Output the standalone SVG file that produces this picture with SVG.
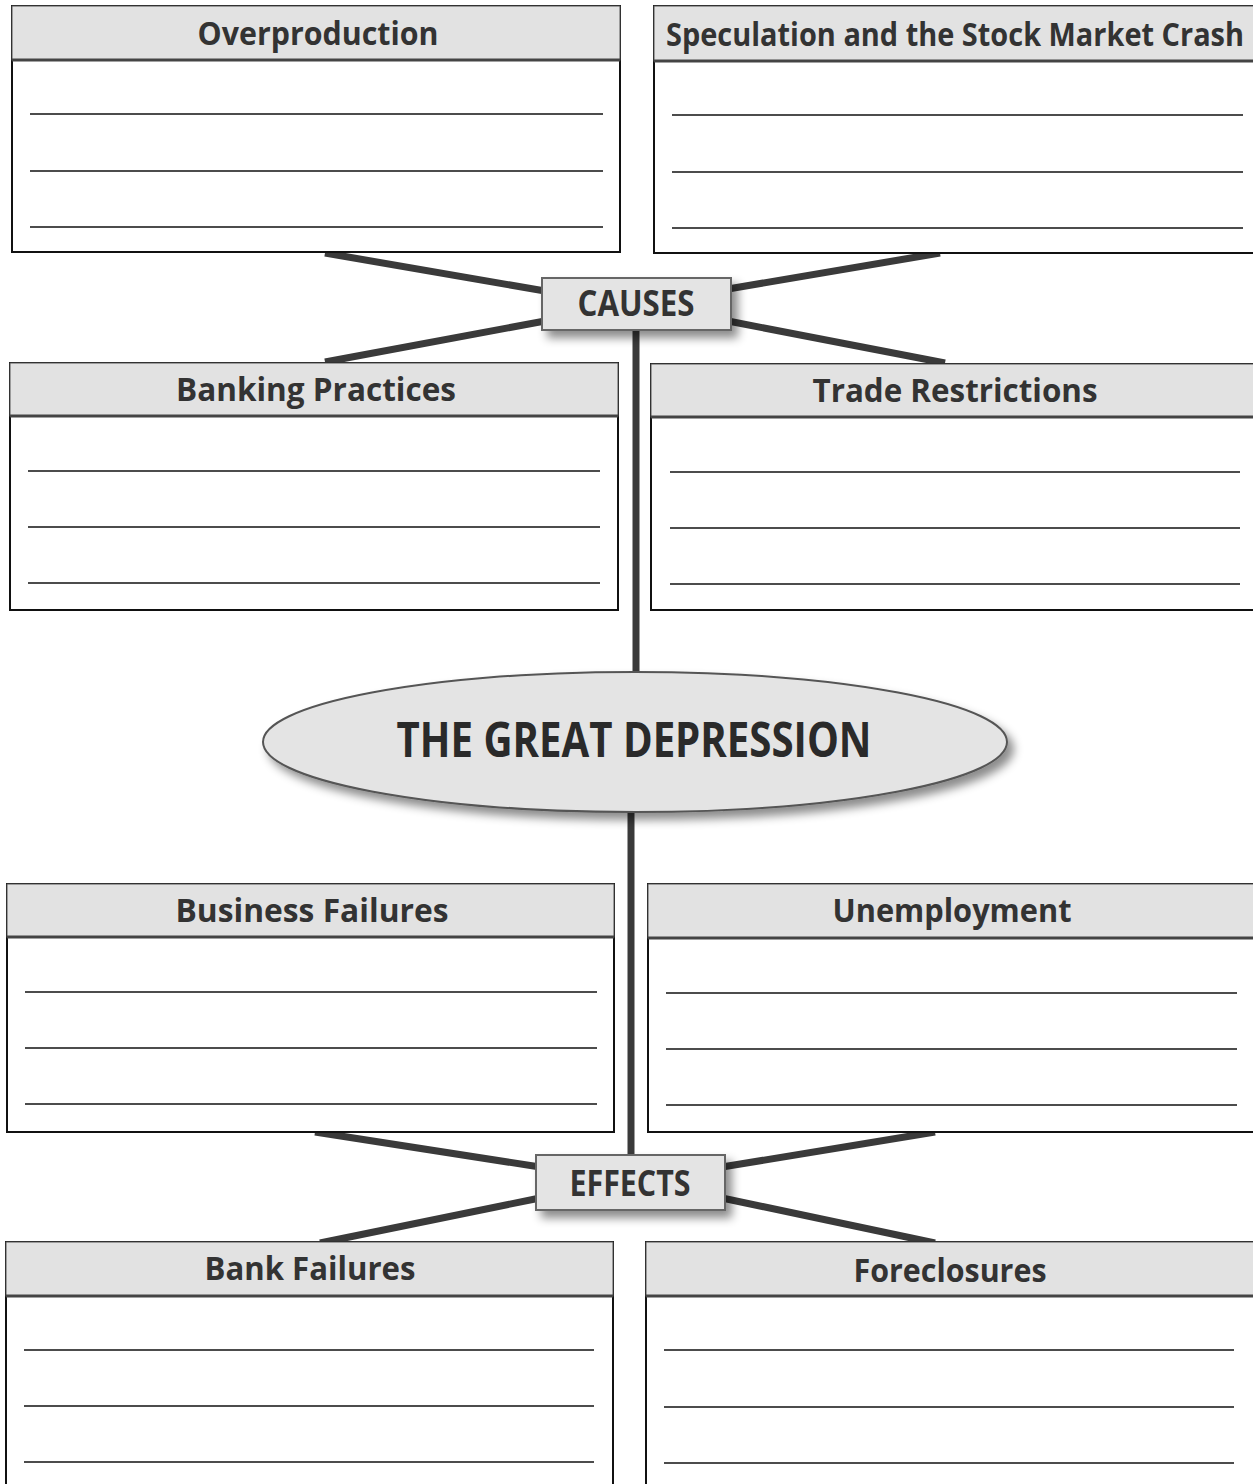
<svg xmlns="http://www.w3.org/2000/svg" width="1253" height="1484" viewBox="0 0 1253 1484">
<style>
.box{fill:#fff;stroke:#111;stroke-width:2}
.hdr{fill:#e2e2e2;stroke:#555;stroke-width:1}
.hline{stroke:#444;stroke-width:3}
.rule{stroke:#111;stroke-width:1.5}
.ht{font-family:"Open Sans","Liberation Sans",sans-serif;font-weight:bold;font-size:33px;fill:#333;text-anchor:middle}
.conn{stroke:#3a3a3a;stroke-width:7;stroke-linecap:butt;fill:none}
.lbl{fill:#e4e4e4;stroke:#666;stroke-width:2}
.lt{font-family:"Open Sans","Liberation Sans",sans-serif;font-weight:bold;font-size:36px;fill:#333;text-anchor:middle}
</style>
<defs>
<filter id="sh" x="-20%" y="-30%" width="140%" height="170%">
<feDropShadow dx="6" dy="7" stdDeviation="5" flood-color="#000" flood-opacity="0.45"/>
</filter>
</defs>
<rect width="1253" height="1484" fill="#fff"/>
<g id="connectors">
<line class="conn" x1="325" y1="253" x2="545" y2="291"/>
<line class="conn" x1="325" y1="362" x2="545" y2="321"/>
<line class="conn" x1="940" y1="253" x2="728" y2="289"/>
<line class="conn" x1="945" y1="363" x2="728" y2="321"/>
<line class="conn" x1="636" y1="330" x2="636" y2="674" stroke-width="5"/>
<line class="conn" x1="631" y1="810" x2="631" y2="1157" stroke-width="5"/>
<line class="conn" x1="315" y1="1132" x2="540" y2="1167"/>
<line class="conn" x1="320" y1="1243" x2="540" y2="1198"/>
<line class="conn" x1="935" y1="1132" x2="722" y2="1167"/>
<line class="conn" x1="935" y1="1243" x2="722" y2="1198"/>
</g>
<g id="overproduction">
<rect class="box" x="12" y="6" width="608" height="246"/>
<rect class="hdr" x="12" y="6" width="608" height="54"/>
<line class="hline" x1="12" y1="60" x2="620" y2="60"/>
<text class="ht" x="318" y="45" textLength="241" lengthAdjust="spacingAndGlyphs">Overproduction</text>
<line class="rule" x1="30" y1="114" x2="603" y2="114"/>
<line class="rule" x1="30" y1="171" x2="603" y2="171"/>
<line class="rule" x1="30" y1="227" x2="603" y2="227"/>
</g>
<g id="speculation">
<rect class="box" x="654" y="6" width="610" height="247"/>
<rect class="hdr" x="654" y="6" width="610" height="55"/>
<line class="hline" x1="654" y1="61" x2="1253" y2="61"/>
<text class="ht" transform="scale(0.78,1)" x="1224.4" y="46" textLength="741" lengthAdjust="spacingAndGlyphs">Speculation and the Stock Market Crash</text>
<line class="rule" x1="672" y1="115" x2="1243" y2="115"/>
<line class="rule" x1="672" y1="172" x2="1243" y2="172"/>
<line class="rule" x1="672" y1="228" x2="1243" y2="228"/>
</g>
<g id="causes">
<rect class="lbl" x="542" y="278" width="189" height="52" filter="url(#sh)"/>
<text class="lt" x="636" y="316" textLength="117" lengthAdjust="spacingAndGlyphs">CAUSES</text>
</g>
<g id="banking">
<rect class="box" x="10" y="363" width="608" height="247"/>
<rect class="hdr" x="10" y="363" width="608" height="53"/>
<line class="hline" x1="10" y1="416" x2="618" y2="416"/>
<text class="ht" x="316" y="401" textLength="280" lengthAdjust="spacingAndGlyphs">Banking Practices</text>
<line class="rule" x1="28" y1="471" x2="600" y2="471"/>
<line class="rule" x1="28" y1="527" x2="600" y2="527"/>
<line class="rule" x1="28" y1="583" x2="600" y2="583"/>
</g>
<g id="trade">
<rect class="box" x="651" y="364" width="612" height="246"/>
<rect class="hdr" x="651" y="364" width="612" height="53"/>
<line class="hline" x1="651" y1="417" x2="1253" y2="417"/>
<text class="ht" x="955" y="402" textLength="285" lengthAdjust="spacingAndGlyphs">Trade Restrictions</text>
<line class="rule" x1="670" y1="472" x2="1240" y2="472"/>
<line class="rule" x1="670" y1="528" x2="1240" y2="528"/>
<line class="rule" x1="670" y1="584" x2="1240" y2="584"/>
</g>
<g id="great-depression">
<ellipse cx="635" cy="742" rx="372" ry="70" fill="#e4e4e4" stroke="#555" stroke-width="2" filter="url(#sh)"/>
<text x="634" y="757" font-family="'Open Sans','Liberation Sans',sans-serif" font-weight="bold" font-size="48" fill="#2a2a2a" text-anchor="middle" textLength="475" lengthAdjust="spacingAndGlyphs">THE GREAT DEPRESSION</text>
</g>
<g id="business">
<rect class="box" x="7" y="884" width="607" height="248"/>
<rect class="hdr" x="7" y="884" width="607" height="53"/>
<line class="hline" x1="7" y1="937" x2="614" y2="937"/>
<text class="ht" x="312" y="922" textLength="273" lengthAdjust="spacingAndGlyphs">Business Failures</text>
<line class="rule" x1="25" y1="992" x2="597" y2="992"/>
<line class="rule" x1="25" y1="1048" x2="597" y2="1048"/>
<line class="rule" x1="25" y1="1104" x2="597" y2="1104"/>
</g>
<g id="unemployment">
<rect class="box" x="648" y="884" width="615" height="248"/>
<rect class="hdr" x="648" y="884" width="615" height="54"/>
<line class="hline" x1="648" y1="938" x2="1253" y2="938"/>
<text class="ht" x="952" y="922" textLength="239" lengthAdjust="spacingAndGlyphs">Unemployment</text>
<line class="rule" x1="666" y1="993" x2="1237" y2="993"/>
<line class="rule" x1="666" y1="1049" x2="1237" y2="1049"/>
<line class="rule" x1="666" y1="1105" x2="1237" y2="1105"/>
</g>
<g id="effects">
<rect class="lbl" x="536" y="1155" width="189" height="55" filter="url(#sh)"/>
<text class="lt" x="630" y="1196" textLength="121" lengthAdjust="spacingAndGlyphs">EFFECTS</text>
</g>
<g id="bank-failures">
<rect class="box" x="6" y="1242" width="607" height="260"/>
<rect class="hdr" x="6" y="1242" width="607" height="54"/>
<line class="hline" x1="6" y1="1296" x2="613" y2="1296"/>
<text class="ht" x="310" y="1280" textLength="211" lengthAdjust="spacingAndGlyphs">Bank Failures</text>
<line class="rule" x1="24" y1="1350" x2="594" y2="1350"/>
<line class="rule" x1="24" y1="1406" x2="594" y2="1406"/>
<line class="rule" x1="24" y1="1462" x2="594" y2="1462"/>
</g>
<g id="foreclosures">
<rect class="box" x="646" y="1242" width="617" height="260"/>
<rect class="hdr" x="646" y="1242" width="617" height="54"/>
<line class="hline" x1="646" y1="1296" x2="1253" y2="1296"/>
<text class="ht" x="950" y="1282" textLength="193" lengthAdjust="spacingAndGlyphs">Foreclosures</text>
<line class="rule" x1="664" y1="1350" x2="1234" y2="1350"/>
<line class="rule" x1="664" y1="1407" x2="1234" y2="1407"/>
<line class="rule" x1="664" y1="1463" x2="1234" y2="1463"/>
</g>
</svg>
